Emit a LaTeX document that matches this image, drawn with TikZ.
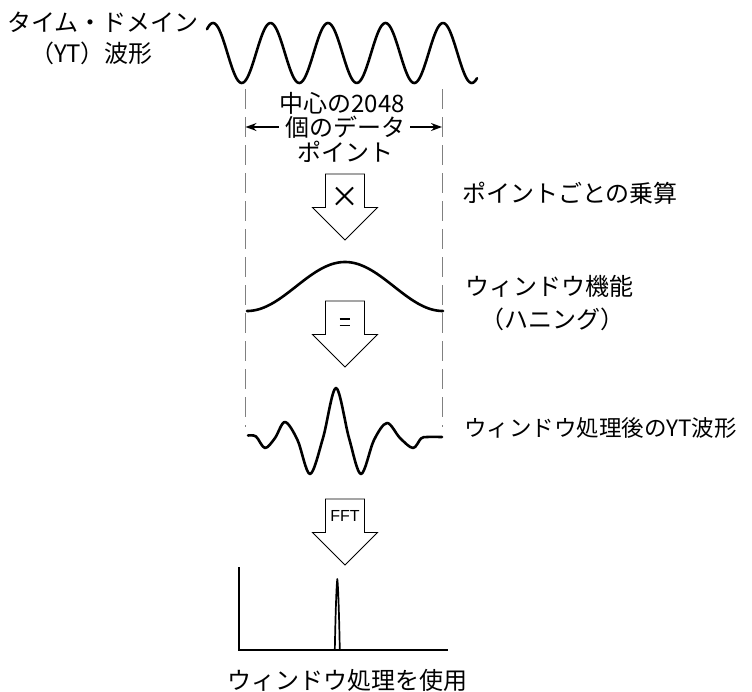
\documentclass[tikz,border=0pt]{standalone}
\usepackage{fontspec}
\newfontfamily\jp{Noto Sans CJK JP}
\newfontfamily\lsans{Liberation Sans}
\usetikzlibrary{arrows.meta}
\begin{document}
\begin{tikzpicture}[x=1pt,y=-1pt,
  lbl/.style={font=\jp\fontsize{24}{28}\selectfont, inner sep=0pt},
  wave/.style={line width=2.6pt, line cap=round, line join=round},
  guide/.style={draw=black!50, line width=0.9pt, dash pattern=on 20pt off 8pt},
  barrow/.style={draw=black, line width=0.9pt, fill=white},
  dimarrow/.style={-{Stealth[length=11pt,width=8pt]}, line width=1.3pt},
  axis/.style={line width=1.2pt},
  pics/blockarrow/.style={code={
    \draw[barrow] (-19.5,0) -- (19.5,0) -- (19.5,33.5) -- (32.5,33.5) -- (0,66)
      -- (-32.5,33.5) -- (-19.5,33.5) -- cycle;}}
]
\useasboundingbox (0,0) rectangle (752,691);

% left title
\node[lbl, anchor=west] (t1) at (7,22) {タイム・ドメイン};
\node[lbl, anchor=west] (t2) at (30,53) {（YT）波形};

% original sine wave
\draw[wave] plot[domain=207:477, samples=220] (\x, {53-30*cos(6.26087*(\x-213))});

% dashed guide lines
\coordinate (gl1) at (245.5,89);
\coordinate (gl2) at (245.5,427);
\coordinate (gr1) at (442,89);
\coordinate (gr2) at (442,427);
\draw[guide] (gl1) -- (gl2);
\draw[guide] (gr1) -- (gr2);

% centre text with dimension arrows
\node[lbl] (c1) at (342,103) {中心の2048};
\node[lbl] (c2) at (345,127) {個のデータ};
\node[lbl] (c3) at (345,152) {ポイント};
\coordinate (dl) at (245.5,127);
\coordinate (dr) at (442,127);
\draw[dimarrow] ([xshift=-6pt]c2.west) -- (dl);
\draw[dimarrow] ([xshift=5pt]c2.east) -- (dr);

% block arrow 1 (multiply)
\pic at (345,174) {blockarrow};
\draw[line width=1.9pt] (336,187.5) -- (353,204.5);
\draw[line width=1.9pt] (353,187.5) -- (336,204.5);
\node[lbl, anchor=west] (r1) at (462,193) {ポイントごとの乗算};

% Hanning window
\draw[wave] plot[domain=247:443, samples=140] (\x, {311-49*pow(cos(0.918367*(\x-345)),2)});
\node[lbl, anchor=west] (r2) at (465,286) {ウィンドウ機能};
\node[lbl, anchor=west] (r3) at (480,319) {（ハニング）};

% block arrow 2 (equals)
\pic at (345,301) {blockarrow};
\draw[line width=1.9pt] (339.5,319) -- (349.5,319);
\draw[line width=1.9pt] (339.5,325.5) -- (349.5,325.5);

% windowed waveform
\draw[wave] plot[smooth, tension=0.55] coordinates {
  (248,435.5) (256,436.5) (265,448) (275,438) (285,422) (297.5,440) (310,474)
  (323,438) (336,388) (349,438) (361,474) (374,440) (387,423) (400,438)
  (413,448) (421,438.5) (427,437) (442,437)};
\node[lbl, anchor=west, font=\jp\fontsize{22.5}{27}\selectfont] (r4) at (464,428) {ウィンドウ処理後のYT波形};

% block arrow 3 (FFT)
\pic at (345,499) {blockarrow};
\node[font=\lsans\fontsize{16}{18}\selectfont, inner sep=0pt] (fft) at (345,516) {FFT};

% spectrum
\coordinate (ax0) at (239,650);
\draw[axis] (239,567) -- (ax0) -- (448,650);
\draw[line width=1.7pt, line join=round]
  (334.8,650) .. controls (335.6,610) and (336.5,585) .. (337.3,579)
  .. controls (338.1,585) and (339,610) .. (339.8,650);

\node[lbl] (b1) at (347,680) {ウィンドウ処理を使用};
\end{tikzpicture}
\end{document}
